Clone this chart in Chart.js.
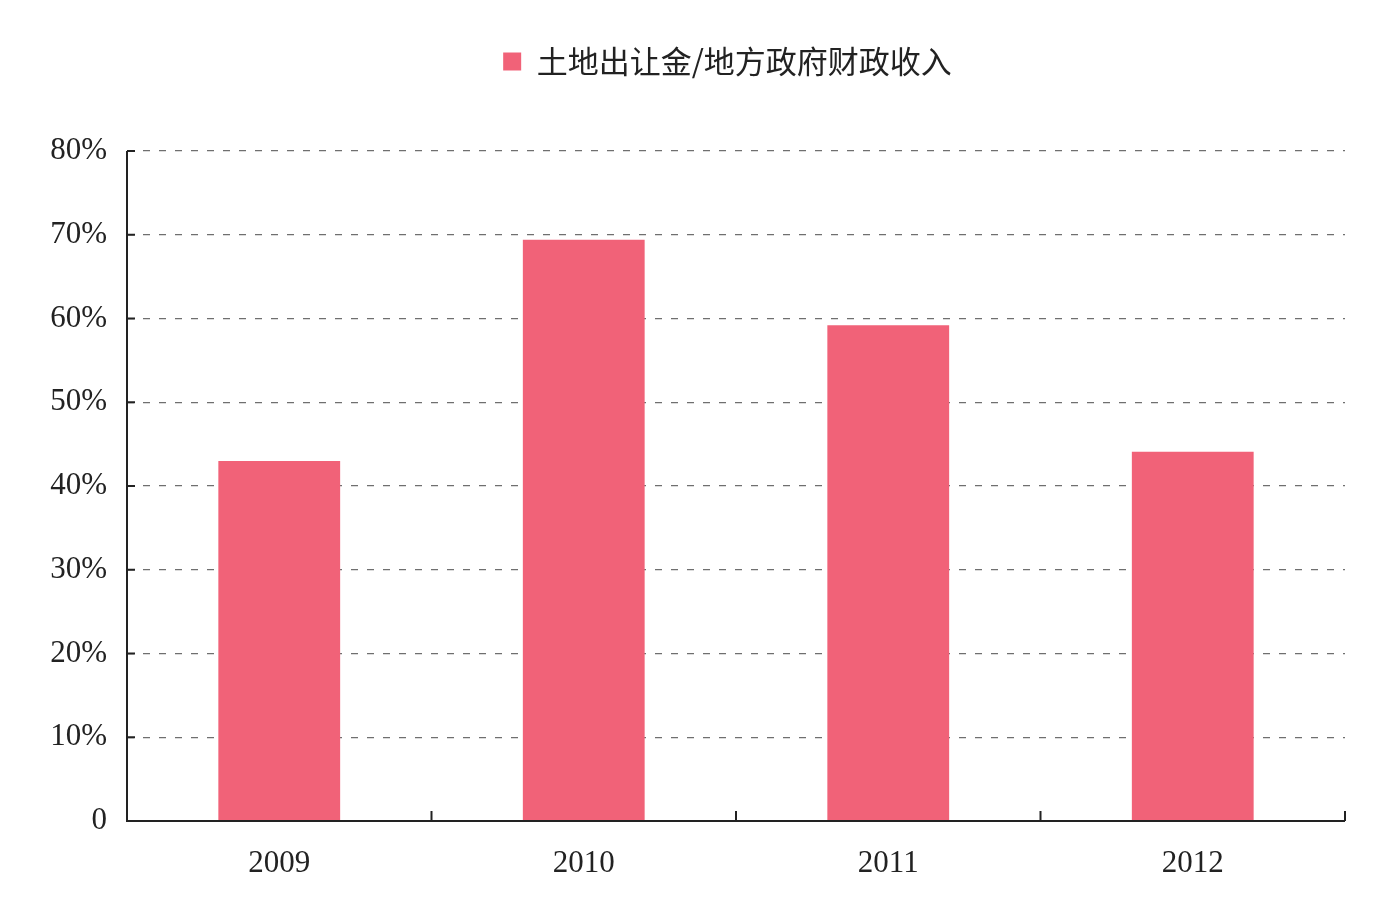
<!DOCTYPE html>
<html><head><meta charset="utf-8">
<script src="https://cdn.jsdelivr.net/npm/chart.js@4.4.0/dist/chart.umd.min.js"></script>
<style>html,body{margin:0;padding:0;background:#fff}#wrap{width:1379px;height:899px}</style>
</head><body><div id="wrap"><canvas id="c" width="1379" height="899"></canvas></div>
<script>
const categories = ['2009', '2010', '2011', '2012'];
const seriesName = '土地出让金/地方政府财政收入';
const seriesValues = [43.0, 69.4, 59.2, 44.1];
const yTicks = [0, 10, 20, 30, 40, 50, 60, 70, 80];

const serif = '"Liberation Serif","DejaVu Serif",serif';
const axisColor = '#222';

const legendSpace = {
  id: 'legendSpace',
  beforeInit(chart) {
    const lg = chart.legend;
    const orig = lg.fit;
    lg.fit = function () { orig.call(this); this.height += 64; };
  },
  afterLayout(chart) {
    chart.legend.left += 45; chart.legend.right += 45;
  }
};

const axisPlugin = {
  id: 'axisPlugin',
  afterDatasetsDraw(chart) {
    const ctx = chart.ctx, a = chart.chartArea;
    const x = chart.scales.x, y = chart.scales.y;
    ctx.save();
    ctx.strokeStyle = axisColor;
    ctx.lineWidth = 2;
    ctx.beginPath();
    ctx.moveTo(a.left, a.top); ctx.lineTo(a.left, a.bottom); ctx.lineTo(a.right, a.bottom);
    ctx.stroke();
    ctx.beginPath();
    yTicks.forEach(v => { const py = y.getPixelForValue(v); ctx.moveTo(a.left, py); ctx.lineTo(a.left + 8, py); });
    for (let i = 1; i <= categories.length; i++) {
      const px = (x.getPixelForValue(i - 1) + x.getPixelForValue(i)) / 2;
      ctx.moveTo(px, a.bottom); ctx.lineTo(px, a.bottom - 10);
    }
    ctx.stroke();
    ctx.restore();
  }
};

new Chart(document.getElementById('c'), {
  type: 'bar',
  data: {
    labels: categories,
    datasets: [{
      label: seriesName,
      data: seriesValues,
      backgroundColor: '#F16278',
      borderWidth: 0,
      categoryPercentage: 0.8,
      barPercentage: 0.5
    }]
  },
  options: {
    responsive: false,
    animation: false,
    devicePixelRatio: 1,
    layout: { padding: { left: 20, right: 34, top: 32, bottom: 10 } },
    plugins: {
      legend: {
        position: 'top',
        labels: {
          boxWidth: 18, boxHeight: 18, padding: 14,
          color: '#222',
          font: { family: '"Noto Sans CJK SC","Noto Sans",sans-serif', size: 31 }
        }
      },
      tooltip: { enabled: false },
      title: { display: false }
    },
    scales: {
      x: {
        offset: true,
        grid: { display: false, drawTicks: false },
        border: { display: false },
        ticks: { color: '#222', padding: 24, font: { family: serif, size: 31 } },
        afterFit(s) { s.height = 68; }
      },
      y: {
        min: 0, max: 80,
        afterBuildTicks(s) { s.ticks = yTicks.map(v => ({ value: v })); },
        grid: { color: '#6f6f6f', lineWidth: 1.2, drawTicks: false },
        border: { display: false, dash: [7, 9] },
        ticks: {
          color: '#222', padding: 20,
          font: { family: serif, size: 31 },
          callback: v => v === 0 ? '0' : v + '%'
        },
        afterFit(s) { s.width = 107; }
      }
    }
  },
  plugins: [legendSpace, axisPlugin]
});
</script>
</body></html>
